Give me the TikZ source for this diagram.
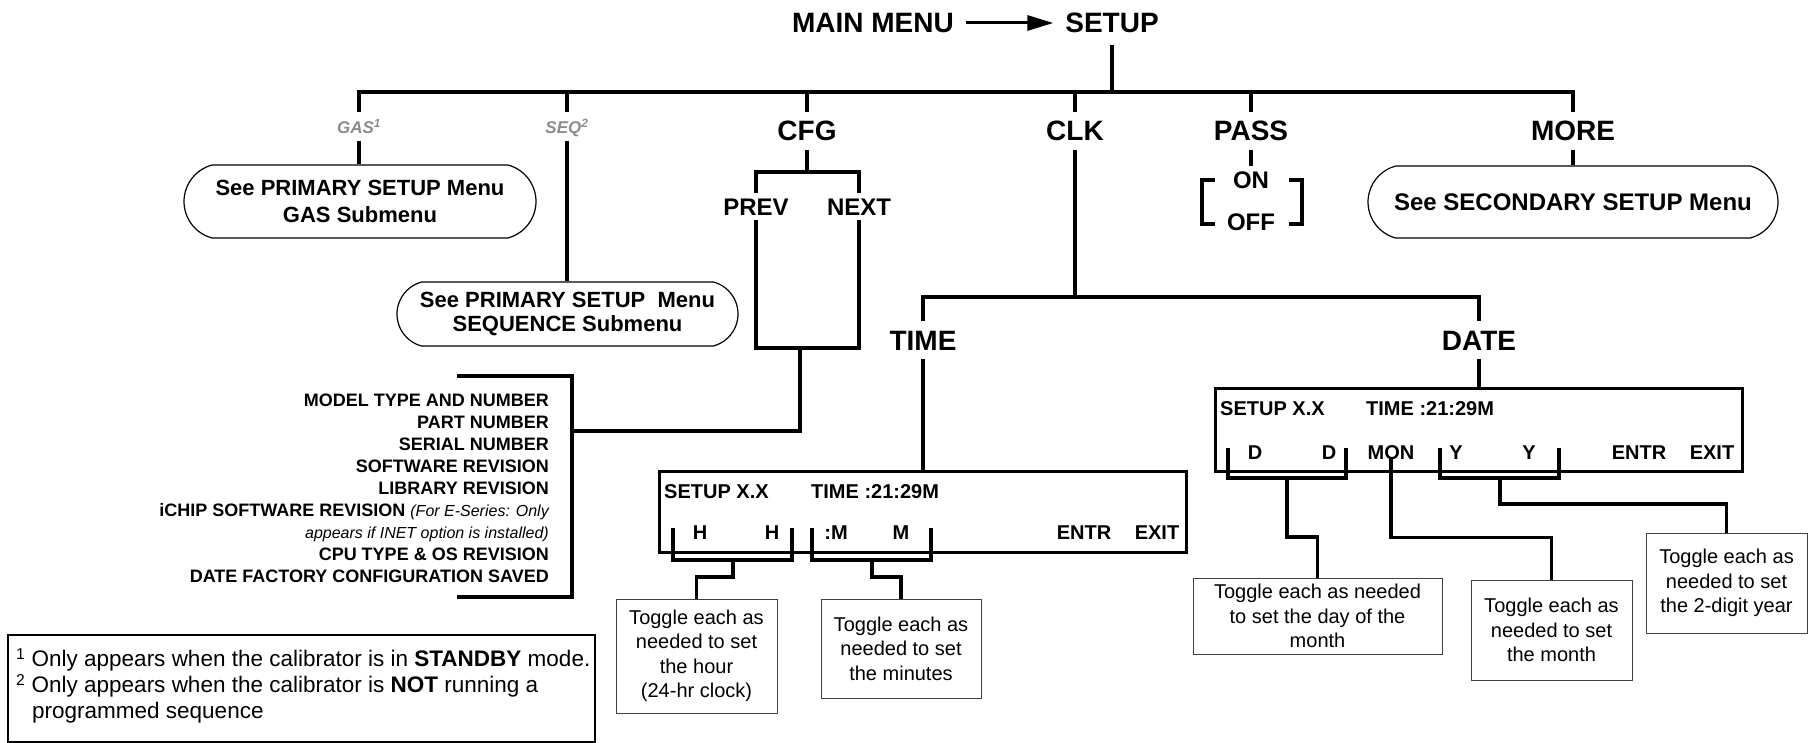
\documentclass[tikz,border=0pt]{standalone}
\usepackage{fontspec}
\setmainfont{Liberation Sans}
\usetikzlibrary{positioning}
\usetikzlibrary{shapes.misc}
\usetikzlibrary{arrows.meta}
\definecolor{optgray}{RGB}{140,140,140}

\begin{document}
\begin{tikzpicture}[x=1pt,y=-1pt,
  wire/.style={line width=3.5pt},
  head/.style={font=\fontsize{28}{32}\selectfont\bfseries,inner sep=0pt,text height=20pt,text depth=0pt,outer sep=9pt},
  sub/.style={font=\fontsize{24}{28}\selectfont\bfseries,inner sep=0pt,text height=17pt,text depth=0pt,outer sep=5pt},
  opt/.style={font=\fontsize{17}{20}\selectfont\bfseries\itshape,text=optgray,inner sep=0pt,text height=13pt,text depth=0pt,outer sep=8pt},
  menubox/.style={rounded rectangle,rounded rectangle arc length=150,draw,line width=1.2pt,align=center,inner sep=0pt},
  screen/.style={draw,line width=3pt,inner sep=0pt},
  key/.style={font=\fontsize{20}{24}\selectfont\bfseries,inner sep=0pt,text height=14.3pt,text depth=0pt},
  toggle/.style={draw=black!75,line width=1pt,align=center,font=\fontsize{20}{24.5}\selectfont,inner sep=0pt}]
\useasboundingbox (0,0) rectangle (1817,743);

\node[head,outer sep=12pt] (mainmenu) at (873,23) {MAIN MENU};
\node[head,outer sep=12pt] (setup) at (1112,23) {SETUP};
\draw[line width=3pt,-{Triangle[length=26pt,width=15pt]}] (mainmenu) -- (setup);
\coordinate (bus) at (1112,92);
\draw[wire] (setup.south) -- (bus);

\node[opt] (gas) at (359,127) {GAS\textsuperscript{1}};
\node[opt] (seq) at (567,127) {SEQ\textsuperscript{2}};
\node[head] (cfg) at (807,131) {CFG};
\node[head] (clk) at (1075,131) {CLK};
\node[head] (pass) at (1251,131) {PASS};
\node[head] (more) at (1573,131) {MORE};
\draw[wire] (gas.north) -- (gas.north |- bus) -- (more.north |- bus) -- (more.north);
\foreach \n in {seq,cfg,clk,pass}
  \draw[wire] (\n.north |- bus) -- (\n.north);

\node[menubox,minimum width=352pt,minimum height=73pt,font=\fontsize{22}{27}\selectfont\bfseries] (gasbox) at (360,201.5) {See PRIMARY SETUP Menu\\GAS Submenu};
\draw[wire] (gas.south) -- (gas.south |- gasbox.north);
\node[menubox,minimum width=341pt,minimum height=64pt,font=\fontsize{22}{24}\selectfont\bfseries] (seqbox) at (567.5,314) {See PRIMARY SETUP\ \ Menu\\SEQUENCE Submenu};
\draw[wire] (seq.south) -- (seq.south |- seqbox.north);
\node[menubox,minimum width=410pt,minimum height=72pt,font=\fontsize{24}{28}\selectfont\bfseries] (morebox) at (1573,202) {See SECONDARY SETUP Menu};
\draw[wire] (more.south) -- (morebox.north);

\node[sub] (on) at (1251,180) {ON};
\node[sub] (off) at (1251,222) {OFF};
\draw[wire] (pass.south) -- (on.north);
\draw[wire] (1215,180) -- (1202,180) -- (1202,224) -- (1215,224);
\draw[wire] (1289,180) -- (1302,180) -- (1302,224) -- (1289,224);

\node[sub] (prev) at (756,207) {PREV};
\node[sub] (next) at (859,207) {NEXT};
\coordinate (cfgfork) at (807,172);
\draw[wire] (cfg.south) -- (cfgfork);
\draw[wire] (prev.north) |- (cfgfork) -| (next.north);
\coordinate (cfgjoin) at (800,348);
\draw[wire] (prev.south) |- (cfgjoin) -| (next.south);
\coordinate (cfgbar) at (572,431);
\draw[wire] (cfgjoin) |- (cfgbar);
\coordinate (listtop) at (457,376);
\coordinate (listbot) at (457,597);
\draw[wire] (listtop) -| (cfgbar) |- (listbot);
\node[anchor=east,align=right,font=\fontsize{18}{22}\selectfont\bfseries,inner sep=0pt] (cfglist) at (549,488) {MODEL TYPE AND NUMBER\\PART NUMBER\\SERIAL NUMBER\\SOFTWARE REVISION\\LIBRARY REVISION\\iCHIP SOFTWARE REVISION {\mdseries\itshape\fontsize{16}{20}\selectfont (For E-Series: Only}\\{\mdseries\itshape\fontsize{16}{20}\selectfont appears if INET option is installed)}\\CPU TYPE \& OS REVISION\\DATE FACTORY CONFIGURATION SAVED};

\node[head] (time) at (923,340) {TIME};
\node[head] (date) at (1479,340) {DATE};
\coordinate (clkfork) at (1075,297);
\draw[wire] (clk.south) -- (clkfork);
\draw[wire] (time.north) |- (clkfork) -| (date.north);

\node[screen,minimum width=527pt,minimum height=81pt] (timescr) at (922.5,511.5) {};
\draw[wire] (time.south) -- (time.south |- timescr.north);
\node[key,anchor=west] (tsetup) at (664,491) {SETUP X.X};
\node[key,anchor=west] (ttime) at (811,491) {TIME :21:29M};
\node[key] (th1) at (700,532) {H};
\node[key] (th2) at (772,532) {H};
\node[key] (tm1) at (836,532) {:M};
\node[key] (tm2) at (901,532) {M};
\node[key] (tentr) at (1084,532) {ENTR};
\node[key] (texit) at (1157,532) {EXIT};

\node[screen,minimum width=527pt,minimum height=83pt] (datescr) at (1478.5,429.5) {};
\draw[wire] (date.south) -- (date.south |- datescr.north);
\node[key,anchor=west] (dsetup) at (1220,408) {SETUP X.X};
\node[key,anchor=west] (dtime) at (1366,408) {TIME :21:29M};
\node[key] (dd1) at (1255,452) {D};
\node[key] (dd2) at (1329,452) {D};
\node[key] (dmon) at (1391,452) {MON};
\node[key] (dy1) at (1456,452) {Y};
\node[key] (dy2) at (1529,452) {Y};
\node[key] (dentr) at (1639,452) {ENTR};
\node[key] (dexit) at (1712,452) {EXIT};

\node[toggle,minimum width=161pt,minimum height=114pt] (hourbox) at (696.5,656) {Toggle each as\\needed to set\\the hour\\(24-hr clock)};
\node[toggle,minimum width=160pt,minimum height=99pt] (minbox) at (901,648.5) {Toggle each as\\needed to set\\the minutes};
\node[toggle,minimum width=249pt,minimum height=76pt] (daybox) at (1317.5,616) {Toggle each as needed\\to set the day of the\\month};
\node[toggle,minimum width=161pt,minimum height=100pt] (monthbox) at (1551.5,630) {Toggle each as\\needed to set\\the month};
\node[toggle,minimum width=161pt,minimum height=100pt] (yearbox) at (1726.5,583) {Toggle each as\\needed to set\\the 2-digit year};

\draw[wire] (673,528) |- (792,560) -- (792,528);
\coordinate (hourmid) at (733,560);
\draw[wire] (hourmid) -- ++(0,17) -| (hourbox.north);
\draw[wire] (812,528) |- (931,560) -- (931,528);
\coordinate (minmid) at (872,560);
\draw[wire] (minmid) -- ++(0,17) -| (minbox.north);

\draw[wire] (1228,448) |- (1346,478) -- (1346,448);
\coordinate (daymid) at (1287,478);
\draw[wire] (daymid) -- ++(0,59) -| (daybox.north);
\draw[wire] (dmon.south) -- ++(0,78) -| (monthbox.north);
\draw[wire] (1440,448) |- (1559,478) -- (1559,448);
\coordinate (yearmid) at (1500,478);
\draw[wire] (yearmid) -- ++(0,26) -| (yearbox.north);

\node[draw,line width=2pt,minimum width=587pt,minimum height=107pt,inner sep=0pt] (notes) at (301.5,688.5) {};
\node[anchor=west,align=left,font=\fontsize{22.5}{26}\selectfont,inner sep=0pt] (notetext) at (16,686) {\textsuperscript{1} Only appears when the calibrator is in \textbf{STANDBY} mode.\\\textsuperscript{2} Only appears when the calibrator is \textbf{NOT} running a\\\hspace{16pt}programmed sequence};

\end{tikzpicture}
\end{document}
